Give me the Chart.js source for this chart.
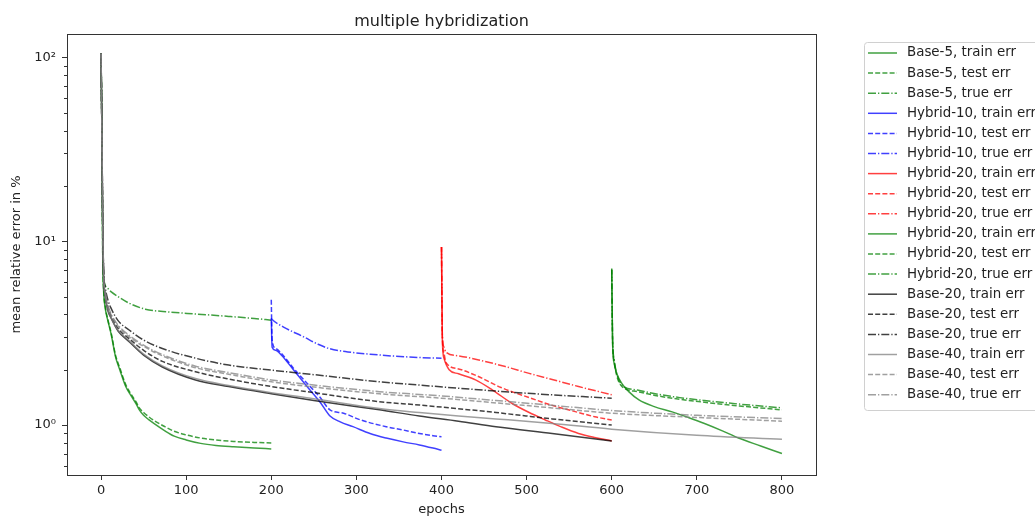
<!DOCTYPE html>
<html>
<head>
<meta charset="utf-8">
<script src="https://cdn.jsdelivr.net/npm/chart.js@4.4.1/dist/chart.umd.min.js"></script>
<style>
  html, body { margin: 0; padding: 0; background: #fff; overflow: hidden; }
  #wrap { width: 1035px; height: 516px; }
</style>
</head>
<body>
<div id="wrap"><canvas id="errChart" width="1035" height="516"></canvas></div>
<script>
// values, [epoch, mean relative error %]
const base5Train = [[0,105],[1,40],[2,8],[3,5.4],[5,4.3],[8,3.7],[12,3.1],[17,2.35],[22,2.0],[29,1.62],[35,1.45],[41,1.31],[45,1.21],[50,1.13],[56,1.07],[62,1.02],[75,0.93],[86,0.87],[100,0.83],[117,0.795],[135,0.775],[156,0.762],[180,0.75],[200,0.742]];
const base5Test = [[0,105],[1,40],[2,8.2],[3,5.5],[5,4.4],[8,3.75],[12,3.15],[17,2.4],[22,2.05],[29,1.66],[35,1.48],[41,1.34],[45,1.24],[50,1.17],[56,1.11],[62,1.06],[75,0.98],[86,0.925],[100,0.885],[117,0.85],[135,0.83],[156,0.815],[180,0.805],[200,0.8]];
const base5True = [[0,105],[1,40],[2,10],[3,6.6],[4,5.9],[7,5.6],[12,5.3],[20,5.0],[33,4.6],[52,4.27],[80,4.12],[111,4.02],[150,3.9],[180,3.8],[200,3.72]];

const hyb10Train = [[200,3.8],[201,2.65],[205,2.55],[212,2.4],[226,2.0],[242,1.62],[257,1.34],[269,1.12],[281,1.04],[296,0.98],[316,0.9],[335,0.85],[355,0.81],[374,0.78],[390,0.75],[400,0.73]];
const hyb10Test = [[200,4.8],[201,2.9],[205,2.62],[212,2.45],[226,2.04],[242,1.69],[257,1.42],[269,1.21],[285,1.16],[304,1.07],[335,0.98],[355,0.94],[374,0.9],[390,0.875],[400,0.864]];
const hyb10True = [[200,3.8],[201,3.75],[215,3.4],[238,3.02],[255,2.75],[269,2.6],[290,2.5],[316,2.43],[345,2.37],[374,2.33],[400,2.31]];

const hyb20Train = [[400,9.3],[401,2.9],[403,2.3],[409,2.0],[420,1.9],[440,1.76],[460,1.55],[483,1.31],[503,1.17],[522,1.066],[540,0.98],[561,0.9],[580,0.855],[600,0.82]];
const hyb20Test = [[400,9.3],[401,3.0],[403,2.45],[405,2.2],[420,2.02],[444,1.83],[470,1.6],[503,1.41],[530,1.28],[561,1.17],[580,1.11],[600,1.066]];
const hyb20True = [[400,9.3],[401,3.1],[403,2.65],[405,2.5],[420,2.38],[444,2.26],[475,2.08],[503,1.91],[530,1.77],[561,1.62],[580,1.54],[600,1.46]];

const hyb20bTrain = [[600,7.1],[601,2.8],[603,2.15],[606,1.9],[612,1.68],[620,1.52],[632,1.37],[650,1.26],[671,1.18],[690,1.1],[709,1.02],[730,0.93],[749,0.85],[775,0.77],[800,0.7]];
const hyb20bTest = [[600,7.0],[601,2.9],[603,2.2],[606,1.85],[612,1.62],[630,1.52],[651,1.45],[680,1.38],[709,1.33],[750,1.27],[800,1.21]];
const hyb20bTrue = [[600,7.0],[601,3.0],[603,2.25],[606,1.9],[612,1.65],[630,1.55],[651,1.48],[680,1.41],[709,1.36],[750,1.3],[800,1.24]];

const base20Train = [[0,105],[1,40],[2,12],[3,6.5],[5,5.0],[8,4.2],[12,3.8],[20,3.25],[33,2.84],[50,2.4],[72,2.07],[111,1.76],[150,1.62],[200,1.48],[250,1.36],[327,1.21],[374,1.12],[420,1.05],[464,0.98],[530,0.9],[600,0.82]];
const base20Test = [[0,105],[1,40],[2,12],[3,6.6],[5,5.1],[8,4.35],[12,3.9],[20,3.35],[33,2.95],[50,2.55],[72,2.22],[111,1.95],[150,1.78],[200,1.62],[250,1.5],[327,1.34],[374,1.285],[464,1.17],[530,1.08],[600,1.0]];
const base20True = [[0,105],[1,40],[2,12],[3,7],[5,5.6],[8,4.8],[12,4.3],[20,3.7],[33,3.29],[50,2.9],[72,2.61],[111,2.31],[150,2.12],[200,1.99],[250,1.88],[327,1.72],[374,1.65],[464,1.53],[530,1.46],[600,1.4]];

const base40Train = [[0,105],[1,40],[2,12],[3,6.5],[5,5.0],[8,4.25],[12,3.82],[20,3.28],[33,2.88],[50,2.43],[72,2.1],[111,1.79],[150,1.64],[200,1.5],[250,1.39],[327,1.23],[374,1.17],[420,1.12],[464,1.08],[530,1.02],[600,0.95],[700,0.88],[800,0.836]];
const base40Test = [[0,105],[1,40],[2,12],[3,6.7],[5,5.2],[8,4.45],[12,3.95],[20,3.45],[33,3.02],[50,2.68],[72,2.38],[111,2.05],[150,1.89],[200,1.72],[250,1.61],[327,1.48],[400,1.4],[464,1.32],[530,1.24],[600,1.16],[700,1.1],[800,1.05]];
const base40True = [[0,105],[1,40],[2,12],[3,6.8],[5,5.3],[8,4.5],[12,4.0],[20,3.5],[33,3.08],[50,2.72],[72,2.42],[111,2.09],[150,1.93],[200,1.76],[250,1.65],[327,1.52],[400,1.44],[464,1.36],[530,1.28],[600,1.2],[700,1.13],[800,1.085]];

const xTicks = [0, 100, 200, 300, 400, 500, 600, 700, 800];
const yTicks = [1, 10, 100];
const yTickLabels = ['10⁰', '10¹', '10²'];
const yMinorTicks = [0.6, 0.7, 0.8, 0.9, 2, 3, 4, 5, 6, 7, 8, 9, 20, 30, 40, 50, 60, 70, 80, 90];

const GREEN = 'rgba(0,128,0,0.75)';
const BLUE = 'rgba(0,0,255,0.75)';
const RED = 'rgba(255,0,0,0.75)';
const BLACK = 'rgba(0,0,0,0.75)';
const GRAY = 'rgba(128,128,128,0.75)';
const SOLID = [];
const DASHED = [5, 2.2];
const DASHDOT = [8, 2, 1.3, 2];

let series = [
  ['Base-5, train err', base5Train, GREEN, SOLID],
  ['Base-5, test err', base5Test, GREEN, DASHED],
  ['Base-5, true err', base5True, GREEN, DASHDOT],
  ['Hybrid-10, train err', hyb10Train, BLUE, SOLID],
  ['Hybrid-10, test err', hyb10Test, BLUE, DASHED],
  ['Hybrid-10, true err', hyb10True, BLUE, DASHDOT],
  ['Hybrid-20, train err', hyb20Train, RED, SOLID],
  ['Hybrid-20, test err', hyb20Test, RED, DASHED],
  ['Hybrid-20, true err', hyb20True, RED, DASHDOT],
  ['Hybrid-20, train err', hyb20bTrain, GREEN, SOLID],
  ['Hybrid-20, test err', hyb20bTest, GREEN, DASHED],
  ['Hybrid-20, true err', hyb20bTrue, GREEN, DASHDOT],
  ['Base-20, train err', base20Train, BLACK, SOLID],
  ['Base-20, test err', base20Test, BLACK, DASHED],
  ['Base-20, true err', base20True, BLACK, DASHDOT],
  ['Base-40, train err', base40Train, GRAY, SOLID],
  ['Base-40, test err', base40Test, GRAY, DASHED],
  ['Base-40, true err', base40True, GRAY, DASHDOT]
];

let datasets = series.map((s, i) => ({
  label: s[0],
  data: s[1].map(p => ({x: p[0], y: p[1]})),
  borderColor: s[2],
  borderDash: s[3],
  borderWidth: 1.5,
  pointRadius: 0,
  fill: false,
  cubicInterpolationMode: 'monotone',
  order: -i
}));

// frame, minor log ticks and a matplotlib style legend box
let extras = {
  id: 'extras',
  afterDraw(chart) {
    const ctx = chart.ctx;
    const a = chart.chartArea;
    const y = chart.scales.y;
    ctx.save();
    ctx.strokeStyle = '#333';
    ctx.lineWidth = 1;
    ctx.strokeRect(Math.round(a.left) + 0.5, Math.round(a.top) + 0.5, Math.round(a.right - a.left), Math.round(a.bottom - a.top));
    ctx.beginPath();
    yMinorTicks.forEach(v => {
      const py = Math.round(y.getPixelForValue(v)) + 0.5;
      ctx.moveTo(a.left - 3, py);
      ctx.lineTo(a.left, py);
    });
    ctx.stroke();

    // legend
    const lx = 864, ly = 42, lw = 200, lh = 368, step = 20.1;
    ctx.fillStyle = 'rgba(255,255,255,0.9)';
    ctx.strokeStyle = '#d0d0d0';
    ctx.beginPath();
    ctx.roundRect(lx + 0.5, ly + 0.5, lw, lh, 3);
    ctx.fill();
    ctx.stroke();
    ctx.font = '13.4px "DejaVu Sans"';
    ctx.textBaseline = 'middle';
    chart.data.datasets.forEach((ds, i) => {
      const cy = ly + 11 + i * step;
      ctx.strokeStyle = ds.borderColor;
      ctx.lineWidth = ds.borderWidth;
      ctx.setLineDash(ds.borderDash);
      ctx.beginPath();
      ctx.moveTo(lx + 4, cy);
      ctx.lineTo(lx + 33, cy);
      ctx.stroke();
      ctx.setLineDash([]);
      ctx.fillStyle = '#222';
      ctx.fillText(ds.label, lx + 43, cy);
    });
    ctx.restore();
  }
};

new Chart(document.getElementById('errChart').getContext('2d'), {
  type: 'line',
  data: { datasets: datasets },
  options: {
    responsive: false,
    animation: false,
    events: [],
    layout: { padding: { left: 0, right: 219, top: 0, bottom: 0 } },
    plugins: {
      legend: { display: false },
      tooltip: { enabled: false },
      title: {
        display: true,
        text: 'multiple hybridization',
        fullSize: false,
        color: '#222',
        font: { family: 'DejaVu Sans', size: 16, weight: 'normal', lineHeight: 1.2 },
        padding: { top: 12, bottom: 2.8 }
      }
    },
    scales: {
      x: {
        type: 'linear',
        min: -40,
        max: 840,
        afterBuildTicks: s => { s.ticks = xTicks.map(v => ({value: v})); },
        afterFit: s => { s.height = 41; },
        grid: { display: true, drawOnChartArea: false, tickLength: 5, tickColor: '#333' },
        border: { display: false },
        ticks: { color: '#222', font: { family: 'DejaVu Sans', size: 13 }, padding: 3, maxRotation: 0 },
        title: { display: true, text: 'epochs', color: '#222', font: { family: 'DejaVu Sans', size: 13, lineHeight: 1.0 }, padding: { top: 0, bottom: 0 } }
      },
      y: {
        type: 'logarithmic',
        min: 0.535,
        max: 134,
        afterBuildTicks: s => { s.ticks = yTicks.map(v => ({value: v})); },
        afterFit: s => { s.width = 67; },
        grid: { display: true, drawOnChartArea: false, tickLength: 5, tickColor: '#333' },
        border: { display: false },
        ticks: {
          color: '#222',
          font: { family: 'DejaVu Sans', size: 13 },
          padding: 6,
          callback: v => yTickLabels[yTicks.indexOf(v)] || ''
        },
        title: { display: true, text: 'mean relative error in %', color: '#222', font: { family: 'DejaVu Sans', size: 13, lineHeight: 1.2 }, padding: { top: 9 } }
      }
    }
  },
  plugins: [extras]
});
</script>
</body>
</html>
